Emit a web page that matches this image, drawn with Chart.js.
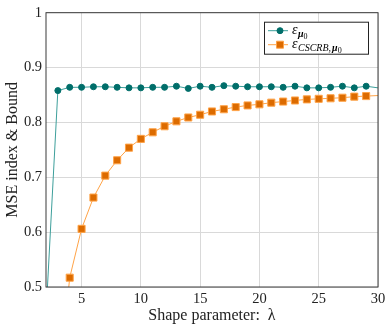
<!DOCTYPE html>
<html>
<head>
<meta charset="utf-8">
<script src="https://cdn.jsdelivr.net/npm/chart.js@4.4.0/dist/chart.umd.min.js"></script>
<style>
  html, body { margin: 0; padding: 0; background: #fff; }
  #wrap { width: 390px; height: 327px; position: relative; }
</style>
</head>
<body>
<div id="wrap"><canvas id="chart"></canvas></div>
<script>
// shape parameter values for each series
const lambdaMse = [2, 3, 4, 5, 6, 7, 8, 9, 10, 11, 12, 13, 14, 15, 16, 17, 18, 19, 20, 21, 22, 23, 24, 25, 26, 27, 28, 29, 30];
const lambdaBound = [3, 4, 5, 6, 7, 8, 9, 10, 11, 12, 13, 14, 15, 16, 17, 18, 19, 20, 21, 22, 23, 24, 25, 26, 27, 28, 29, 30];

// MSE index (teal, circles)
const mseValues = [0.45, 0.858, 0.864, 0.864, 0.865, 0.865, 0.864, 0.863, 0.863, 0.864, 0.864, 0.866, 0.862, 0.866, 0.864,
  0.867, 0.866, 0.865, 0.865, 0.865, 0.864, 0.866, 0.863, 0.863, 0.864, 0.866, 0.863, 0.866, 0.863];
// CSCRB bound (orange, squares)
const boundValues = [0.30, 0.517, 0.606, 0.663, 0.703, 0.731, 0.754, 0.770, 0.782, 0.793, 0.802, 0.809, 0.814, 0.820,
  0.824, 0.828, 0.831, 0.833, 0.836, 0.838, 0.840, 0.842, 0.843, 0.844, 0.845, 0.847, 0.848, 0.849];

const xTicks = [5, 10, 15, 20, 25, 30];
const yTicks = [0.5, 0.6, 0.7, 0.8, 0.9, 1];
const yTickLabels = ["0.5", "0.6", "0.7", "0.8", "0.9", "1"];

const SERIF = "'Liberation Serif', 'DejaVu Serif', serif";
const TEAL = "#006e6a";
const TEAL_LINE = "#3d9f9b";
const ORANGE = "#dc6b00";
const ORANGE_LINE = "#ffa347";

const toPoints = (xs, ys) => xs.map((x, i) => ({ x, y: ys[i] }));

// markers outside the axis box are not drawn (clipped in the original)
const markerRadius = (r) => (ctx) => {
  const p = ctx.raw;
  if (!p || p.x >= 30 || p.y < 0.5) return 0;
  return r;
};

// frame around the plot area
const frame = {
  id: "frame",
  afterDatasetsDraw(chart) {
    const { ctx, chartArea: a } = chart;
    ctx.save();
    ctx.strokeStyle = "#3a3a3a";
    ctx.lineWidth = 1;
    ctx.strokeRect(a.left, a.top, a.right - a.left, a.bottom - a.top);
    ctx.restore();
  },
};

// legend with subscripted math labels
const mathLegend = {
  id: "mathLegend",
  afterDraw(chart) {
    const { ctx, chartArea: a } = chart;
    const x0 = a.right - 114, y0 = a.top + 9, w = 104, h = 32;
    ctx.save();
    ctx.fillStyle = "#fff";
    ctx.fillRect(x0, y0, w, h);
    ctx.strokeStyle = "#222";
    ctx.lineWidth = 1;
    ctx.strokeRect(x0 + 0.5, y0 + 0.5, w, h);

    const rows = [
      { y: y0 + 9, line: TEAL_LINE, fill: TEAL, shape: "circle", sub: [] },
      { y: y0 + 23, line: ORANGE_LINE, fill: ORANGE, shape: "rect", sub: ["CSCRB,"] },
    ];
    rows.forEach((r) => {
      ctx.strokeStyle = r.line;
      ctx.beginPath();
      ctx.moveTo(x0 + 4, r.y);
      ctx.lineTo(x0 + 24, r.y);
      ctx.stroke();
      ctx.fillStyle = r.fill;
      ctx.strokeStyle = r.shape === "rect" ? ORANGE_LINE : TEAL;
      ctx.beginPath();
      if (r.shape === "circle") ctx.arc(x0 + 16, r.y, 3, 0, Math.PI * 2);
      else ctx.rect(x0 + 12.5, r.y - 3.5, 7, 7);
      ctx.fill();
      ctx.stroke();

      let x = x0 + 28;
      ctx.fillStyle = "#000";
      ctx.textBaseline = "alphabetic";
      ctx.font = "italic 14px " + SERIF;
      ctx.fillText("\u03b5", x, r.y + 3);
      x += ctx.measureText("\u03b5").width + 0.5;
      ctx.font = "italic 10px " + SERIF;
      r.sub.forEach((s) => {
        ctx.fillText(s, x, r.y + 6);
        x += ctx.measureText(s).width + 1;
      });
      ctx.font = "italic bold 10px " + SERIF;
      ctx.fillText("\u03bc", x, r.y + 6);
      x += ctx.measureText("\u03bc").width;
      ctx.font = "8px " + SERIF;
      ctx.fillText("0", x, r.y + 8);
    });
    ctx.restore();
  },
};

new Chart(document.getElementById("chart"), {
  type: "line",
  data: {
    datasets: [
      {
        label: "mse",
        data: toPoints(lambdaMse, mseValues),
        borderColor: TEAL_LINE,
        borderWidth: 1,
        pointStyle: "circle",
        pointRadius: markerRadius(3),
        pointBackgroundColor: TEAL,
        pointBorderColor: TEAL,
        pointBorderWidth: 1,
        tension: 0,
      },
      {
        label: "bound",
        data: toPoints(lambdaBound, boundValues),
        borderColor: ORANGE_LINE,
        borderWidth: 1,
        pointStyle: "rect",
        pointRadius: markerRadius(5),
        pointBackgroundColor: ORANGE,
        pointBorderColor: ORANGE_LINE,
        pointBorderWidth: 1,
        tension: 0,
      },
    ],
  },
  options: {
    responsive: true,
    maintainAspectRatio: false,
    animation: false,
    layout: { padding: { left: 0, top: 9, right: 12, bottom: 0 } },
    plugins: { legend: { display: false }, tooltip: { enabled: false } },
    scales: {
      x: {
        type: "linear",
        min: 2,
        max: 30,
        afterFit: (s) => { s.height = 40; },
        afterBuildTicks: (s) => { s.ticks = xTicks.map((v) => ({ value: v })); },
        grid: { color: "#d9d9d9", lineWidth: 1, tickLength: 0 },
        border: { display: false },
        ticks: { color: "#222", padding: 3, font: { family: SERIF, size: 14.5 } },
        title: {
          display: true,
          text: "Shape parameter:  \u03bb",
          color: "#222",
          font: { family: SERIF, size: 16 },
          padding: { top: 0, bottom: 2 },
        },
      },
      y: {
        min: 0.5,
        max: 1,
        afterFit: (s) => { s.width = 46; },
        afterBuildTicks: (s) => { s.ticks = yTicks.map((v) => ({ value: v })); },
        grid: { color: "#d9d9d9", lineWidth: 1, tickLength: 0 },
        border: { display: false },
        ticks: {
          color: "#222",
          padding: 4,
          font: { family: SERIF, size: 14.5 },
          callback: (v, i) => yTickLabels[i],
        },
        title: {
          display: true,
          text: "MSE index & Bound",
          color: "#222",
          font: { family: SERIF, size: 16 },
          padding: { top: 3, bottom: 0 },
        },
      },
    },
  },
  plugins: [frame, mathLegend],
});
</script>
</body>
</html>
